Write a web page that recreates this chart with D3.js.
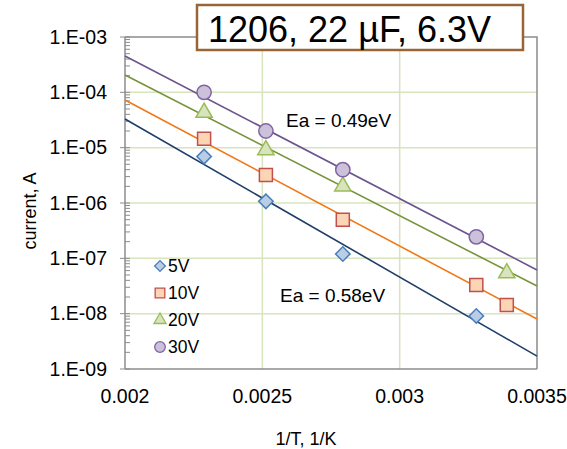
<!DOCTYPE html>
<html>
<head>
<meta charset="utf-8">
<script src="https://cdn.jsdelivr.net/npm/d3@7"></script>
<style>
    body { margin: 0; background: #fff; }
    svg { font-family: "Liberation Sans", Arial, sans-serif; }
</style>
</head>
<body>
<svg id="chart"></svg>
<script>
// 1/T values of the measurement temperatures
const invT = [0.002288, 0.002513, 0.002793, 0.003279, 0.003390];

// leakage current per voltage, null where no point
const series5V  = [6.9e-6, 1.07e-6, 1.2e-7, 9.1e-9, null];
const series10V = [1.45e-5, 3.2e-6, 5.0e-7, 3.3e-8, 1.44e-8];
const series20V = [4.3e-5, 9.1e-6, 2.0e-6, null, 5.4e-8];
const series30V = [1.0e-4, 2.0e-5, 4.0e-6, 2.45e-7, null];

// trendline values at 1/T = 0.002 and 0.0035
const fitX = [0.002, 0.0035];
const fit5V  = [3.30e-5, 1.71e-9];
const fit10V = [7.27e-5, 8.0e-9];
const fit20V = [2.06e-4, 3.16e-8];
const fit30V = [4.54e-4, 6.15e-8];

const seriesNames = ["5V", "10V", "20V", "30V"];
const xTicks = [0.002, 0.0025, 0.003, 0.0035];
const yTicks = [1e-3, 1e-4, 1e-5, 1e-6, 1e-7, 1e-8, 1e-9];

// diamond = square turned 45 degrees
const styles = [
    {symbol: d3.symbolSquare, rotate: 45, size: 105, fill: "#b9cde5", stroke: "#4a7ebb", line: "#1f3f6a"},
    {symbol: d3.symbolSquare, rotate: 0, size: 170, fill: "#fcd5b5", stroke: "#c0504d", line: "#f07818"},
    {symbol: d3.symbolTriangle, rotate: 0, size: 115, fill: "#d7e4bd", stroke: "#9bbb59", line: "#77933c"},
    {symbol: d3.symbolCircle, rotate: 0, size: 160, fill: "#ccc1da", stroke: "#8064a2", line: "#6c548f"}
];

const data = [series5V, series10V, series20V, series30V].map((vals, i) => ({
    name: seriesNames[i],
    points: invT.map((x, j) => ({x: x, y: vals[j]})).filter(p => p.y !== null),
    fit: fitX.map((x, j) => ({x: x, y: [fit5V, fit10V, fit20V, fit30V][i][j]})),
    style: styles[i]
}));

const width = 567, height = 449;
const margin = {top: 37, right: 30, bottom: 80, left: 125};

const svg = d3.select("#chart")
    .attr("width", width)
    .attr("height", height);

const xScale = d3.scaleLinear()
    .domain([0.002, 0.0035])
    .range([margin.left, width - margin.right]);

const yScale = d3.scaleLog()
    .domain([1e-9, 1e-3])
    .range([height - margin.bottom, margin.top]);

// gridlines
svg.append("g")
    .selectAll("line")
    .data(yTicks.slice(1, -1))
    .join("line")
    .attr("x1", xScale.range()[0]).attr("x2", xScale.range()[1])
    .attr("y1", d => yScale(d)).attr("y2", d => yScale(d))
    .attr("stroke", "#d7e4bd").attr("stroke-width", 1.5);

svg.append("g")
    .selectAll("line")
    .data(xTicks.slice(1, -1))
    .join("line")
    .attr("x1", d => xScale(d)).attr("x2", d => xScale(d))
    .attr("y1", yScale.range()[0]).attr("y2", yScale.range()[1])
    .attr("stroke", "#d7e4bd").attr("stroke-width", 1.5);

// plot frame (top and right)
svg.append("path")
    .attr("d", `M${xScale.range()[0]},${yScale.range()[1]}H${xScale.range()[1]}V${yScale.range()[0]}`)
    .attr("fill", "none")
    .attr("stroke", "#8c8c8c")
    .attr("stroke-width", 1.5);

// y axis with log minor ticks
const minorTicks = yScale.ticks().filter(t => yTicks.indexOf(t) < 0);
const yAxisG = svg.append("g");
yAxisG.selectAll(".minor")
    .data(minorTicks)
    .join("line")
    .attr("class", "minor")
    .attr("x1", margin.left).attr("x2", margin.left + 5)
    .attr("y1", d => yScale(d)).attr("y2", d => yScale(d))
    .attr("stroke", "#8c8c8c");
yAxisG.selectAll(".major")
    .data(yTicks)
    .join("line")
    .attr("class", "major")
    .attr("x1", margin.left - 5).attr("x2", margin.left + 5)
    .attr("y1", d => yScale(d)).attr("y2", d => yScale(d))
    .attr("stroke", "#8c8c8c");
yAxisG.append("line")
    .attr("x1", margin.left).attr("x2", margin.left)
    .attr("y1", yScale.range()[0]).attr("y2", yScale.range()[1])
    .attr("stroke", "#8c8c8c").attr("stroke-width", 1.5);
yAxisG.selectAll("text")
    .data(yTicks)
    .join("text")
    .attr("x", margin.left - 18)
    .attr("y", d => yScale(d))
    .attr("dy", "0.35em")
    .attr("text-anchor", "end")
    .attr("font-size", 19.5)
    .text(d => "1.E-" + String(-Math.round(Math.log10(d))).padStart(2, "0"));

// x axis
svg.append("line")
    .attr("x1", xScale.range()[0]).attr("x2", xScale.range()[1])
    .attr("y1", yScale.range()[0]).attr("y2", yScale.range()[0])
    .attr("stroke", "#8c8c8c").attr("stroke-width", 1.5);
svg.append("g")
    .selectAll("text")
    .data(xTicks)
    .join("text")
    .attr("x", d => xScale(d))
    .attr("y", yScale.range()[0] + 34)
    .attr("text-anchor", "middle")
    .attr("font-size", 19.5)
    .text(d => String(d));

// axis titles
svg.append("text")
    .attr("x", 306).attr("y", 445)
    .attr("text-anchor", "middle")
    .attr("font-size", 18)
    .text("1/T, 1/K");

svg.append("text")
    .attr("transform", "translate(36,211) rotate(-90)")
    .attr("text-anchor", "middle")
    .attr("font-size", 18)
    .text("current, A");

// trendlines
const line = d3.line().x(d => xScale(d.x)).y(d => yScale(d.y));
svg.append("g")
    .selectAll("path")
    .data(data)
    .join("path")
    .attr("d", d => line(d.fit))
    .attr("fill", "none")
    .attr("stroke", d => d.style.line)
    .attr("stroke-width", 1.6);

// markers
data.forEach(s => {
    svg.append("g")
        .selectAll("path")
        .data(s.points)
        .join("path")
        .attr("transform", d => `translate(${xScale(d.x)},${yScale(d.y)}) rotate(${s.style.rotate})`)
        .attr("d", d3.symbol().type(s.style.symbol).size(s.style.size))
        .attr("fill", s.style.fill)
        .attr("stroke", s.style.stroke)
        .attr("stroke-width", 1.5);
});

// activation energy labels
svg.append("text")
    .attr("x", 286).attr("y", 127)
    .attr("font-size", 19)
    .text("Ea = 0.49eV");
svg.append("text")
    .attr("x", 280).attr("y", 302)
    .attr("font-size", 19)
    .text("Ea = 0.58eV");

// legend
const legend = svg.append("g");
data.forEach((s, i) => {
    const ly = 266 + i * 27;
    legend.append("path")
        .attr("transform", `translate(160,${ly}) rotate(${s.style.rotate})`)
        .attr("d", d3.symbol().type(s.style.symbol).size(s.style.size * 0.55))
        .attr("fill", s.style.fill)
        .attr("stroke", s.style.stroke)
        .attr("stroke-width", 1.3);
    legend.append("text")
        .attr("x", 168).attr("y", ly)
        .attr("dy", "0.36em")
        .attr("font-size", 17.5)
        .text(s.name);
});

// title box
svg.append("rect")
    .attr("x", 197).attr("y", 5)
    .attr("width", 326).attr("height", 45)
    .attr("fill", "#fff")
    .attr("stroke", "#9a6535")
    .attr("stroke-width", 2.5);
svg.append("text")
    .attr("x", 208).attr("y", 42)
    .attr("font-size", 36)
    .text("1206, 22 \u00b5F, 6.3V");
</script>
</body>
</html>
